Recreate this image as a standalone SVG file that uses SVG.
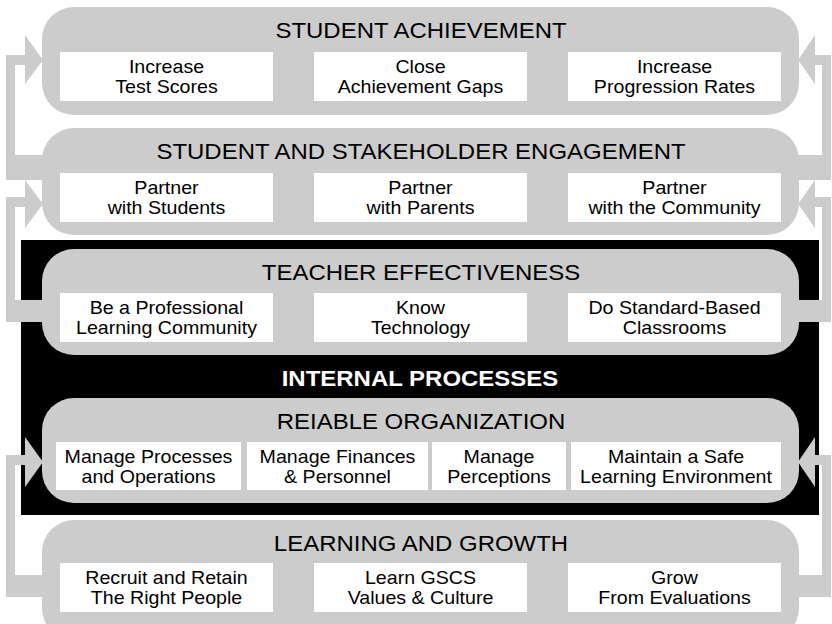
<svg xmlns="http://www.w3.org/2000/svg" width="832" height="624" viewBox="0 0 832 624">
<style>
.band{fill:#cccccc}
.box{fill:#ffffff}
.con{fill:#cccccc}
.t{font-family:"Liberation Sans",Arial,Helvetica,sans-serif;font-size:18px;fill:#000;text-anchor:middle}
.h{font-family:"Liberation Sans",Arial,Helvetica,sans-serif;font-size:22px;fill:#000;text-anchor:middle}
.ip{font-family:"Liberation Sans",Arial,Helvetica,sans-serif;font-size:22px;font-weight:bold;fill:#fff;text-anchor:middle}
</style>
<rect x="0" y="0" width="832" height="624" fill="#ffffff"/>
<rect id="internal" x="21" y="240" width="798" height="275" fill="#000000"/>
<g id="connectors">
  <!-- left: band2 -> band1 -->
  <rect class="con" x="6" y="155" width="40" height="25"/>
  <rect class="con" x="6" y="55" width="9" height="125"/>
  <rect class="con" x="6" y="55" width="21" height="10"/>
  <polygon class="con" points="25,35 43,60 25,84"/>
  <!-- left: band3 -> band2 -->
  <rect class="con" x="6" y="300" width="40" height="22"/>
  <rect class="con" x="6" y="197" width="9" height="125"/>
  <rect class="con" x="6" y="197" width="21" height="10"/>
  <polygon class="con" points="25,180 43,204 25,228"/>
  <!-- left: band5 -> band4 -->
  <rect class="con" x="6" y="575" width="40" height="22"/>
  <rect class="con" x="6" y="455" width="9" height="142"/>
  <rect class="con" x="6" y="455" width="21" height="10"/>
  <polygon class="con" points="25,437 43,462 25,487"/>
  <!-- right: band2 -> band1 -->
  <rect class="con" x="794" y="155" width="37" height="25"/>
  <rect class="con" x="822" y="55" width="9" height="125"/>
  <rect class="con" x="813" y="55" width="18" height="10"/>
  <polygon class="con" points="815,35 798,60 815,84"/>
  <!-- right: band3 -> band2 -->
  <rect class="con" x="794" y="300" width="37" height="22"/>
  <rect class="con" x="822" y="197" width="9" height="125"/>
  <rect class="con" x="813" y="197" width="18" height="10"/>
  <polygon class="con" points="815,180 798,204 815,228"/>
  <!-- right: band5 -> band4 -->
  <rect class="con" x="794" y="575" width="37" height="22"/>
  <rect class="con" x="822" y="455" width="9" height="142"/>
  <rect class="con" x="813" y="455" width="18" height="10"/>
  <polygon class="con" points="815,437 798,462 815,487"/>
</g>
<g id="student-achievement">
  <rect class="band" x="42" y="7" width="757" height="108" rx="32"/>
  <text class="h" transform="translate(421 38) scale(1.09 1)">STUDENT ACHIEVEMENT</text>
  <rect class="box" x="60" y="52" width="213" height="49"/>
  <text class="t" transform="translate(166.5 0) scale(1.09 1)"><tspan x="0" y="73.5">Increase</tspan><tspan x="0" y="93">Test Scores</tspan></text>
  <rect class="box" x="314" y="52" width="213" height="49"/>
  <text class="t" transform="translate(420.5 0) scale(1.09 1)"><tspan x="0" y="73.5">Close</tspan><tspan x="0" y="93">Achievement Gaps</tspan></text>
  <rect class="box" x="568" y="52" width="213" height="49"/>
  <text class="t" transform="translate(674.5 0) scale(1.09 1)"><tspan x="0" y="73.5">Increase</tspan><tspan x="0" y="93">Progression Rates</tspan></text>
</g>
<g id="engagement">
  <rect class="band" x="42" y="128" width="757" height="107" rx="32"/>
  <text class="h" transform="translate(421 159) scale(1.09 1)">STUDENT AND STAKEHOLDER ENGAGEMENT</text>
  <rect class="box" x="60" y="173" width="213" height="49"/>
  <text class="t" transform="translate(166.5 0) scale(1.09 1)"><tspan x="0" y="194.5">Partner</tspan><tspan x="0" y="214">with Students</tspan></text>
  <rect class="box" x="314" y="173" width="213" height="49"/>
  <text class="t" transform="translate(420.5 0) scale(1.09 1)"><tspan x="0" y="194.5">Partner</tspan><tspan x="0" y="214">with Parents</tspan></text>
  <rect class="box" x="568" y="173" width="213" height="49"/>
  <text class="t" transform="translate(674.5 0) scale(1.09 1)"><tspan x="0" y="194.5">Partner</tspan><tspan x="0" y="214">with the Community</tspan></text>
</g>
<g id="teacher-effectiveness">
  <rect class="band" x="42" y="249" width="757" height="106" rx="32"/>
  <text class="h" transform="translate(421 280) scale(1.09 1)">TEACHER EFFECTIVENESS</text>
  <rect class="box" x="60" y="293" width="213" height="49"/>
  <text class="t" transform="translate(166.5 0) scale(1.09 1)"><tspan x="0" y="314.5">Be a Professional</tspan><tspan x="0" y="334">Learning Community</tspan></text>
  <rect class="box" x="314" y="293" width="213" height="49"/>
  <text class="t" transform="translate(420.5 0) scale(1.09 1)"><tspan x="0" y="314.5">Know</tspan><tspan x="0" y="334">Technology</tspan></text>
  <rect class="box" x="568" y="293" width="213" height="49"/>
  <text class="t" transform="translate(674.5 0) scale(1.09 1)"><tspan x="0" y="314.5">Do Standard-Based</tspan><tspan x="0" y="334">Classrooms</tspan></text>
</g>
<text id="internal-label" class="ip" transform="translate(420 386) scale(1.09 1)">INTERNAL PROCESSES</text>
<g id="reliable-organization">
  <rect class="band" x="42" y="398" width="757" height="105" rx="32"/>
  <text class="h" transform="translate(421 429) scale(1.09 1)">REIABLE ORGANIZATION</text>
  <rect class="box" x="56" y="442" width="185" height="48"/>
  <text class="t" transform="translate(148.5 0) scale(1.09 1)"><tspan x="0" y="463.5">Manage Processes</tspan><tspan x="0" y="483">and Operations</tspan></text>
  <rect class="box" x="247" y="442" width="181" height="48"/>
  <text class="t" transform="translate(337.5 0) scale(1.09 1)"><tspan x="0" y="463.5">Manage Finances</tspan><tspan x="0" y="483">&amp; Personnel</tspan></text>
  <rect class="box" x="432" y="442" width="134" height="48"/>
  <text class="t" transform="translate(499 0) scale(1.09 1)"><tspan x="0" y="463.5">Manage</tspan><tspan x="0" y="483">Perceptions</tspan></text>
  <rect class="box" x="571" y="442" width="210" height="48"/>
  <text class="t" transform="translate(676 0) scale(1.09 1)"><tspan x="0" y="463.5">Maintain a Safe</tspan><tspan x="0" y="483">Learning Environment</tspan></text>
</g>
<g id="learning-growth">
  <rect class="band" x="42" y="520" width="757" height="120" rx="32"/>
  <text class="h" transform="translate(421 551) scale(1.09 1)">LEARNING AND GROWTH</text>
  <rect class="box" x="60" y="563" width="213" height="49"/>
  <text class="t" transform="translate(166.5 0) scale(1.09 1)"><tspan x="0" y="584.5">Recruit and Retain</tspan><tspan x="0" y="604">The Right People</tspan></text>
  <rect class="box" x="314" y="563" width="213" height="49"/>
  <text class="t" transform="translate(420.5 0) scale(1.09 1)"><tspan x="0" y="584.5">Learn GSCS</tspan><tspan x="0" y="604">Values &amp; Culture</tspan></text>
  <rect class="box" x="568" y="563" width="213" height="49"/>
  <text class="t" transform="translate(674.5 0) scale(1.09 1)"><tspan x="0" y="584.5">Grow</tspan><tspan x="0" y="604">From Evaluations</tspan></text>
</g>
</svg>
